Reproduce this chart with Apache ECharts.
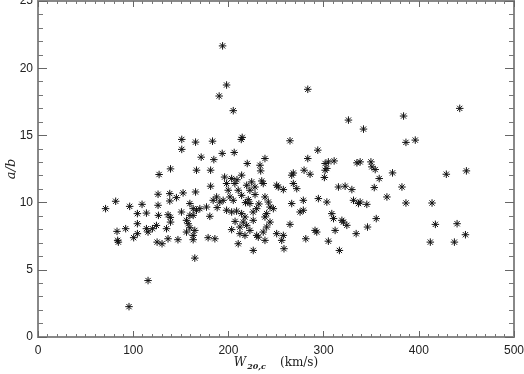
<!DOCTYPE html>
<html>
<head>
<meta charset="utf-8">
<script src="https://cdn.jsdelivr.net/npm/echarts@6/dist/echarts.min.js"></script>
<style>html,body{margin:0;padding:0;background:#fff}#c{width:524px;height:374px}</style>
</head>
<body>
<div id="c"></div>
<script>
// Data: W20,c (km/s) and a/b
const xVals = [71,81.6,83,83.7,84.4,92.1,96.3,95.6,100.5,104.4,104.4,104.4,109.3,113.9,115.6,113.9,115.6,120.2,124.4,126.1,126.1,126.5,125.1,130.3,136.6,135,136.6,139,138.4,138.4,139.2,147,145.4,151,151,165.5,183.3,171.4,184.7,193.5,127.2,139.2,166.5,181.3,181.3,152.4,165.5,159.5,163,166.5,170,180.5,177,150.7,157.7,159.5,156,163,163,178.7,185.8,164.7,188.2,159.5,156,164.7,163,
206.1,219.8,233.2,233.9,238.4,193.9,198.1,190.3,205.1,283.4,326.1,264.7,293.9,214.5,213.5,338.4,283.4,268.2,266.5,279.5,285.8,301.6,303.4,300.8,311.1,335,305,
443,384,341.9,386.5,396.3,349.7,350.7,354.2,372.4,358.4,353.2,382.3,428.9,450,366.5,338.4,345.4,386.5,413.9,355.3,346.1,417.4,440.2,449,412.1,437.4,
203.4,213.9,224.4,235,236.6,198.1,206.8,219.2,199.8,210.3,222.6,201.6,213.9,205.1,191,184,194.5,220.9,222.6,238.4,242,243.7,247.2,238.4,187.6,198.1,203.4,208.6,213.9,217.4,215.6,212.1,219.2,222.6,212.1,217.4,210.3,203.4,226.1,231.4,236.6,238.4,240.2,243.7,250.7,256,258.4,257.7,252.4,257.7,268.2,271.8,266.5,278.7,275.3,278.7,264.7,291,292.8,281.3,315.6,322.6,329.7,294.5,303.4,308.6,310.4,319.2,320.8,324.4,312.1,305,316.6,331.4,336.6,334.2,227.9,250.7,229.7,240.2,226.1,229.7,301.6,
196,209,228,232,207,226,218];
const yVals = [9.55,10.1,7.86,7.19,7.06,8.06,9.72,2.26,7.39,7.69,9.18,8.43,9.87,9.22,4.2,8.06,7.81,8.06,8.3,10.62,9.8,9.05,7.06,6.94,7.31,8.06,9.1,8.9,10.67,10.12,8.55,7.24,10.37,14.7,13.96,14.5,14.57,13.38,13.2,13.66,12.09,12.51,12.41,12.41,11.22,10.72,10.79,9.93,9.55,9.43,9.55,8.98,9.67,9.3,8.43,8.13,7.81,7.24,7.56,7.39,7.31,5.87,9.63,9.05,8.68,7.93,9.05,
13.73,12.91,12.78,12.36,13.28,21.66,18.75,17.93,16.84,18.43,16.14,14.6,13.9,14.85,14.7,13.03,13.28,12.2,12.04,12.41,12.11,12.91,12.54,11.87,13.1,12.96,13.03,
17.01,16.44,15.47,14.48,14.65,13.03,12.66,12.46,12.21,11.79,11.12,11.16,12.11,12.36,10.42,10.04,9.87,9.97,9.97,8.81,8.18,8.38,8.43,7.61,7.06,7.06,
11.79,12.04,11.54,11.61,11.42,11.42,11.42,11.29,10.92,10.92,10.92,10.42,10.54,10.17,10.04,10.17,10.17,10.22,9.93,10.42,10.04,9.67,9.55,8.93,10.42,9.43,9.3,9.37,9.18,8.93,8.55,8.18,8.31,7.93,7.69,7.56,6.94,7.99,6.44,7.43,7.81,7.19,8.18,8.55,7.69,7.19,6.57,7.56,11.16,10.97,11.42,11.04,9.93,10.17,9.3,9.43,8.38,7.93,7.81,7.31,11.16,11.22,10.97,10.3,10.04,9.18,8.81,8.68,8.55,8.31,7.93,7.13,6.44,10.17,9.93,7.69,11.16,11.29,9.55,9.18,8.68,7.56,12.41,
11.9,11.7,10.6,9.9,8.6,9.3,10.0];
const xTicks = [0,100,200,300,400,500];
const yTicks = [0,5,10,15,20,25];

const points = xVals.map((x,i)=>[x,yVals[i]]);
const chart = echarts.init(document.getElementById('c'));
const lab = {fontFamily:'Liberation Sans', fontSize:12, color:'#222'};
function axLine(){ return {show:true, onZero:false, lineStyle:{color:'#888', width:2}}; }
function xMinor(){ return {show:true, splitNumber:10, length:3, lineStyle:{color:'#777'}}; }
function yMinor(){ return {show:true, splitNumber:5, length:5, lineStyle:{color:'#777'}}; }
chart.setOption({
  animation:false,
  grid:{left:38, right:10, top:1, bottom:37, containLabel:false, outerBoundsMode:'none',
        show:true, borderColor:'#888', borderWidth:2, backgroundColor:'transparent'},
  xAxis:[{
    type:'value', min:xTicks[0], max:xTicks[xTicks.length-1], interval:100,
    axisLine:axLine(),
    axisTick:{show:true, inside:true, length:6, lineStyle:{color:'#666'}},
    minorTick:xMinor(),
    splitLine:{show:false},
    axisLabel:Object.assign({margin:8}, lab),
    name:'{w|W}{s|20,c}{g| }{u|(km/s)}', nameLocation:'middle', nameGap:18, nameMoveOverlap:false,
    nameTextStyle:{rich:{
      w:{fontFamily:'DejaVu Serif', fontStyle:'italic', fontSize:12, color:'#222'},
      s:{fontFamily:'DejaVu Serif', fontStyle:'italic', fontWeight:'bold', fontSize:8, color:'#222', padding:[8,0,0,1]},
      g:{fontSize:12, width:14},
      u:{fontFamily:'DejaVu Serif', fontSize:12, color:'#222'}
    }}
  },{
    type:'value', position:'top', min:xTicks[0], max:xTicks[xTicks.length-1], interval:100,
    axisLine:axLine(),
    axisTick:{show:true, inside:true, length:6, lineStyle:{color:'#666'}},
    minorTick:xMinor(),
    splitLine:{show:false}, axisLabel:{show:false}
  }],
  yAxis:[{
    type:'value', min:yTicks[0], max:yTicks[yTicks.length-1], interval:5,
    axisLine:axLine(),
    axisTick:{show:true, inside:true, length:9, lineStyle:{color:'#666'}},
    minorTick:yMinor(),
    splitLine:{show:false},
    axisLabel:Object.assign({margin:5}, lab),
    name:'a/b', nameLocation:'middle', nameGap:20, nameRotate:90, nameMoveOverlap:false,
    nameTextStyle:{fontFamily:'DejaVu Serif', fontStyle:'italic', fontSize:13, color:'#222'}
  },{
    type:'value', position:'right', min:yTicks[0], max:yTicks[yTicks.length-1], interval:5,
    axisLine:axLine(),
    axisTick:{show:true, inside:true, length:9, lineStyle:{color:'#666'}},
    minorTick:yMinor(),
    splitLine:{show:false}, axisLabel:{show:false}
  }],
  series:[{
    type:'scatter', xAxisIndex:0, yAxisIndex:0,
    data:points,
    symbol:'path://M0,4L8,4M4,0L4,8M1.2,1.2L6.8,6.8M6.8,1.2L1.2,6.8',
    symbolSize:7.5,
    itemStyle:{color:'rgba(0,0,0,0)', borderColor:'#111', borderWidth:1, opacity:1}
  },{
    type:'scatter', xAxisIndex:1, yAxisIndex:1, data:points, symbol:'none', symbolSize:0, silent:true
  }]
});
</script>
</body>
</html>
